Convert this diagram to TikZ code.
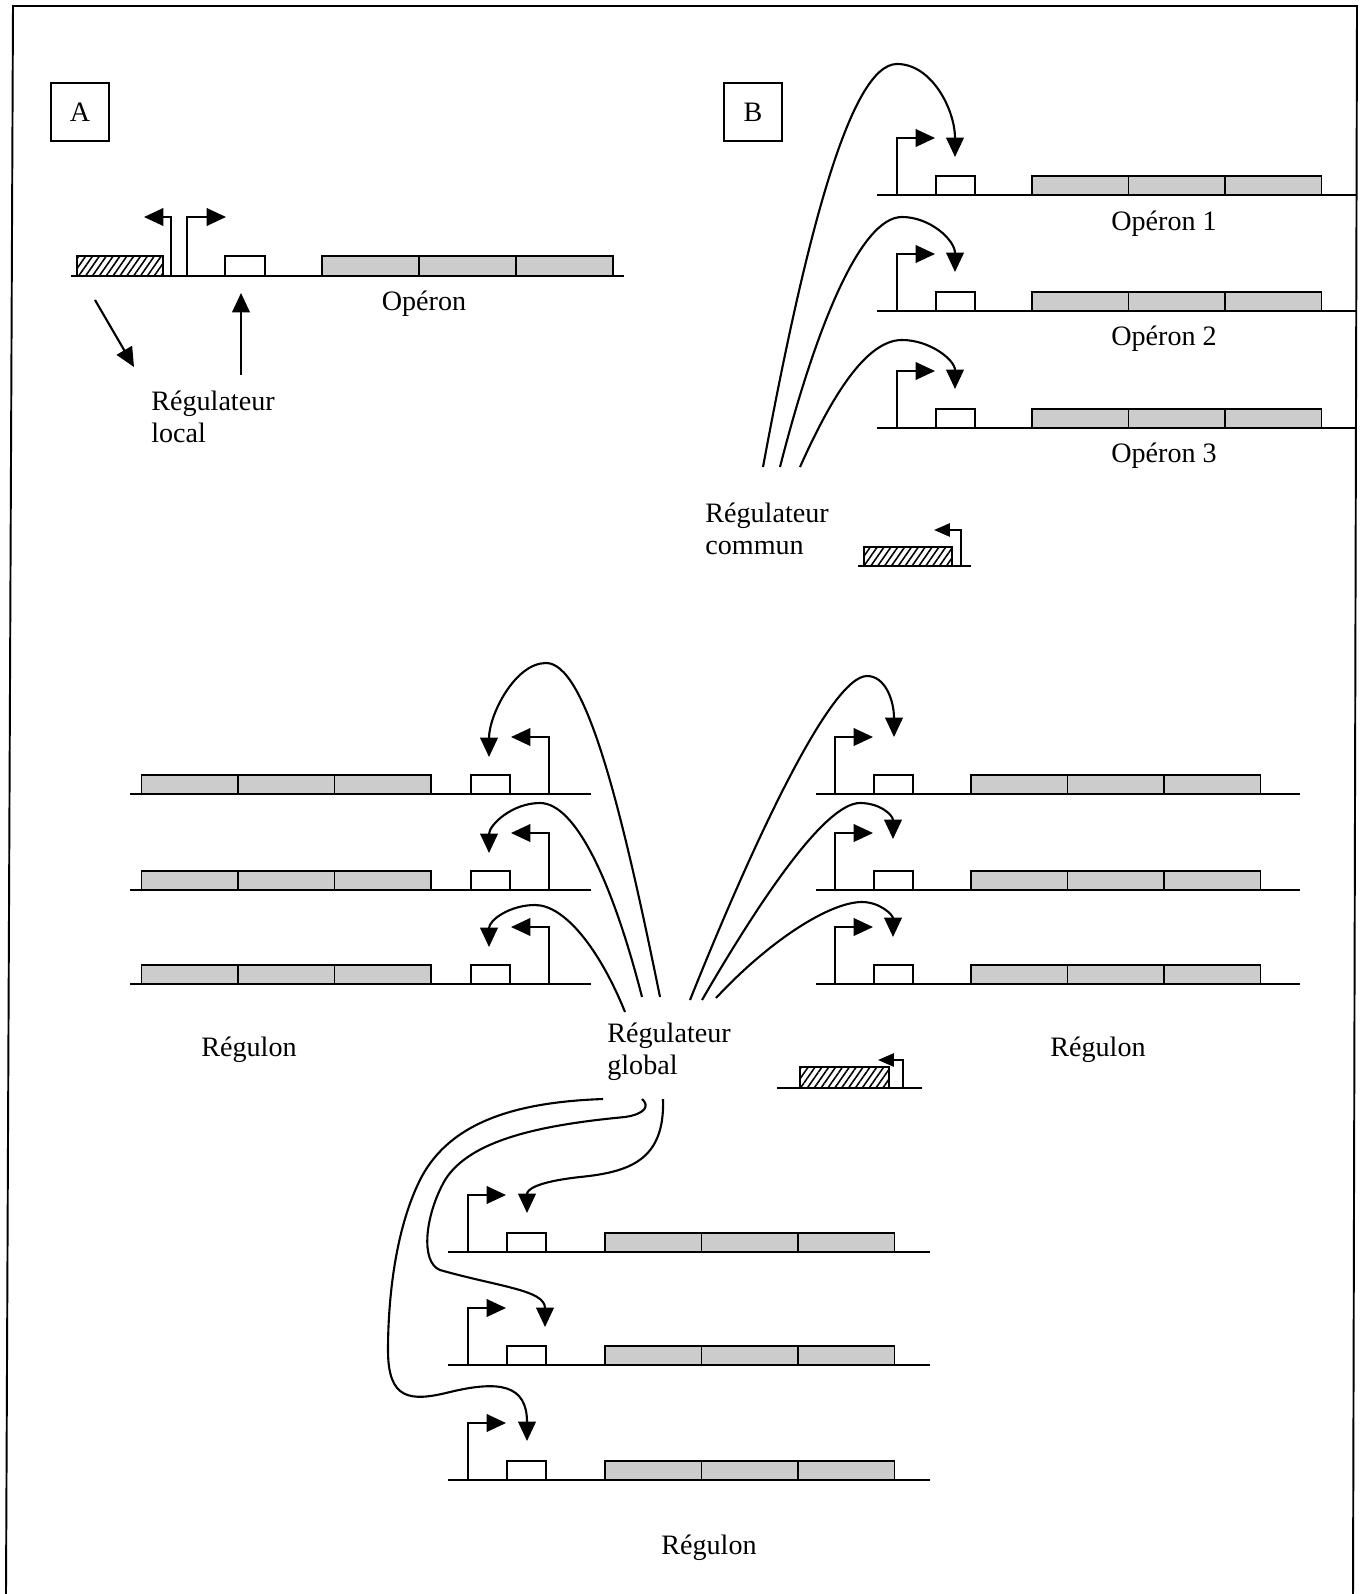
\documentclass[tikz,border=0pt]{standalone}
\usepackage{fontspec}
\setmainfont{Liberation Serif}
\usetikzlibrary{arrows.meta,patterns.meta}

\tikzset{
  strand/.style={line width=1.3pt},
  genebox/.style={draw, line width=1pt, fill=black!20},
  opbox/.style={draw, line width=1pt, fill=white},
  regbox/.style={draw, line width=1pt,
    pattern={Lines[angle=55,distance=3.2pt,line width=0.9pt]}},
  prom/.style={line width=1.1pt, -{Triangle[length=11pt,width=10pt]}},
  smallprom/.style={line width=1.1pt, -{Triangle[length=9pt,width=7.5pt]}},
  regarrow/.style={line width=1.2pt, -{Triangle[length=11pt,width=10pt]}},
  lab/.style={font=\fontsize{16}{18.2}\selectfont, inner sep=0pt},
  tag/.style={draw, line width=0.9pt, minimum width=33pt, minimum height=33pt,
    inner sep=0pt, font=\fontsize{16}{18.2}\selectfont},
}

% one operon on its strand:
% #1 name, #2 promoter x, #3 strand y, #4 facing (1 right, -1 left),
% #5 strand start, #6 strand end, #7 first structural gene offset
\newcommand{\opRow}[7]{%
  \begin{scope}[shift={(#2,#3)},xscale=#4]
    \draw[opbox] (39,0) rectangle (78,-19);
    \foreach \k in {0,1,2}
      \draw[genebox] ({#7+96.5*\k},0) rectangle ({#7+96.5*(\k+1)},-19);
    \draw[prom] (0,0) |- (38,-57);
    \draw[strand] (#5,0) -- (#6,0);
    \coordinate (#1) at (0,0);
  \end{scope}}

\begin{document}
\begin{tikzpicture}[x=0.02cm,y=-0.02cm]
  \fill[white] (0,0) rectangle (1368,1594);
  \useasboundingbox (0,0) rectangle (1368,1594);

  % outer frame (open at the bottom)
  \draw[line width=1.1pt] (6,1594) -- (13,6) -- (1357,6) -- (1353,1594);

  % ---------------- panel A : local regulator ----------------
  \node[tag] (tagA) at (80,112) {A};
  \draw[regbox] (77,276) rectangle (163,256);
  \draw[opbox] (225,276) rectangle (265,256);
  \foreach \k in {0,1,2}
    \draw[genebox] ({322+97*\k},276) rectangle ({322+97*(\k+1)},256);
  \draw[prom] (171,276) |- (144,217);
  \draw[prom] (187,276) |- (226,217);
  \draw[strand] (71,276) -- (624,276);
  \node[lab] (operonA) at (424,304) {Opéron};
  \node[lab, anchor=west, align=left] (localReg) at (151,417) {Régulateur\\local};
  \coordinate (hatchA) at (95,300);
  \coordinate (protA) at (134,367);
  \coordinate (opA) at (241,293);
  \coordinate (locA) at (241,375);
  \draw[regarrow] (hatchA) -- (protA);
  \draw[regarrow] (locA) -- (opA);

  % ---------------- panel B : common regulator ----------------
  \node[tag] (tagB) at (753,112) {B};
  \opRow{opB1}{897}{195}{1}{-20}{460}{135}
  \opRow{opB2}{897}{311}{1}{-20}{460}{135}
  \opRow{opB3}{897}{428}{1}{-20}{460}{135}
  \node[lab] (labB1) at (1164,224) {Opéron 1};
  \node[lab] (labB2) at (1164,339) {Opéron 2};
  \node[lab] (labB3) at (1164,456) {Opéron 3};
  \node[lab, anchor=west, align=left] (commReg) at (705,529) {Régulateur\\commun};
  \draw[regbox] (864,566) rectangle (952,547);
  \draw[smallprom] (961,566) |- (934,530);
  \draw[strand] (858,566) -- (971,566);

  \coordinate (comB1) at (763,467);
  \coordinate (comB2) at (780,467);
  \coordinate (comB3) at (800,467);
  \coordinate (tipB1) at (955,157);
  \coordinate (tipB2) at (955,272);
  \coordinate (tipB3) at (955,389);
  \draw[regarrow] (comB1) .. controls (805,240) and (850,64) .. (897,64)
                          .. controls (932,64) and (955,110) .. (tipB1);
  \draw[regarrow] (comB2) .. controls (815,330) and (860,217) .. (902,217)
                          .. controls (930,217) and (955,240) .. (tipB2);
  \draw[regarrow] (comB3) .. controls (830,400) and (865,340) .. (902,340)
                          .. controls (930,340) and (955,360) .. (tipB3);

  % ---------------- global regulator ----------------
  \node[lab, anchor=west, align=left] (globReg) at (607,1052) {Régulateur\\global};
  \draw[regbox] (800,1088) rectangle (889,1067);
  \draw[smallprom] (903,1088) |- (878,1060);
  \draw[strand] (777,1088) -- (922,1088);

  % left regulon
  \opRow{opL1}{549}{794}{-1}{-42}{419}{118}
  \opRow{opL2}{549}{890}{-1}{-42}{419}{118}
  \opRow{opL3}{549}{984}{-1}{-42}{419}{118}
  \node[lab] (regulonL) at (249,1050) {Régulon};
  \coordinate (globL1) at (660,997);
  \coordinate (globL2) at (642,997);
  \coordinate (globL3) at (625,1012);
  \coordinate (tipL1) at (489,757);
  \coordinate (tipL2) at (489,853);
  \coordinate (tipL3) at (489,947);
  \draw[regarrow] (globL1) .. controls (620,800) and (585,663) .. (546,663)
                           .. controls (515,663) and (489,715) .. (tipL1);
  \draw[regarrow] (globL2) .. controls (612,880) and (575,803) .. (540,803)
                           .. controls (512,803) and (489,825) .. (tipL2);
  \draw[regarrow] (globL3) .. controls (600,950) and (565,905) .. (535,905)
                           .. controls (510,905) and (489,920) .. (tipL3);

  % right regulon
  \opRow{opR1}{835}{794}{1}{-19}{465}{136}
  \opRow{opR2}{835}{890}{1}{-19}{465}{136}
  \opRow{opR3}{835}{984}{1}{-19}{465}{136}
  \node[lab] (regulonR) at (1098,1050) {Régulon};
  \coordinate (globR1) at (690,1000);
  \coordinate (globR2) at (702,1000);
  \coordinate (globR3) at (716,998);
  \coordinate (tipR1) at (894,737);
  \coordinate (tipR2) at (893,839);
  \coordinate (tipR3) at (893,937);
  \draw[regarrow] (globR1) .. controls (750,850) and (830,676) .. (867,676)
                           .. controls (885,676) and (894,700) .. (tipR1);
  \draw[regarrow] (globR2) .. controls (760,900) and (825,803) .. (860,803)
                           .. controls (880,803) and (893,815) .. (tipR2);
  \draw[regarrow] (globR3) .. controls (770,940) and (830,902) .. (862,902)
                           .. controls (880,902) and (893,915) .. (tipR3);

  % lower regulon
  \opRow{opD1}{468}{1252}{1}{-20}{462}{137}
  \opRow{opD2}{468}{1365}{1}{-20}{462}{137}
  \opRow{opD3}{468}{1480}{1}{-20}{462}{137}
  \node[lab] (regulonD) at (709,1548) {Régulon};
  \coordinate (globD1) at (663,1099);
  \coordinate (globD2) at (642,1099);
  \coordinate (globD3) at (603,1099);
  \coordinate (tipD1) at (527,1213);
  \coordinate (tipD2) at (545,1327);
  \coordinate (tipD3) at (527,1441);
  \draw[regarrow] (globD1) .. controls (665,1160) and (630,1172) .. (580,1177)
                           .. controls (535,1182) and (527,1190) .. (tipD1);
  \draw[regarrow] (globD2) .. controls (650,1106) and (645,1114) .. (625,1117)
                           .. controls (540,1125) and (470,1140) .. (445,1180)
                           .. controls (425,1215) and (420,1262) .. (440,1270)
                           .. controls (500,1287) and (545,1290) .. (tipD2);
  \draw[regarrow] (globD3) .. controls (520,1102) and (450,1120) .. (420,1180)
                           .. controls (395,1230) and (388,1300) .. (388,1350)
                           .. controls (388,1400) and (410,1402) .. (450,1392)
                           .. controls (500,1380) and (527,1385) .. (tipD3);
\end{tikzpicture}
\end{document}
